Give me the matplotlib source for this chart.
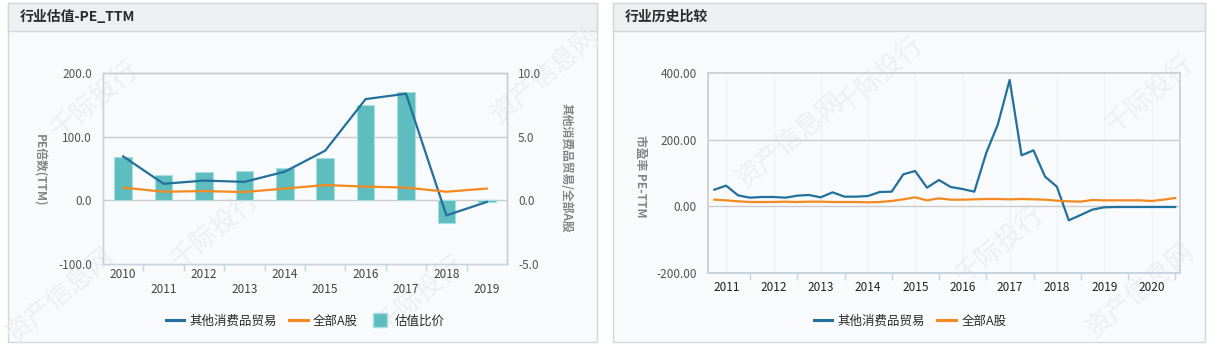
import matplotlib
matplotlib.use("Agg")
import matplotlib.pyplot as plt
import matplotlib.dates as mdates
from matplotlib.patches import Rectangle
from matplotlib.lines import Line2D
from matplotlib.ticker import FixedLocator, FormatStrFormatter
import numpy as np
import pandas as pd
import datetime as dt

plt.rcParams["font.family"] = ["Noto Sans CJK SC", "DejaVu Sans"]

# ---------------- data ----------------
# Annual valuation (left panel)
years = ["2010", "2011", "2012", "2013", "2014", "2015", "2016", "2017", "2018", "2019"]
industry_pe = [69, 26, 31, 29, 45, 78, 159, 167.5, -23.7, -2.5]
market_pe = [20, 13.5, 14.5, 13, 18.5, 24, 21.6, 20, 13.5, 18.5]
relative_pe = [3.4, 2.0, 2.2, 2.3, 2.55, 3.3, 7.45, 8.5, -1.8, -0.1]

# Quarterly history (right panel)
quarter_start = "2011-03-31"
industry_pe_q = [50, 62, 33, 26, 28, 28, 26, 32, 34, 27,
                 42, 29, 29, 31, 43, 44, 96, 106, 56, 79,
                 58, 52, 44, 160, 246, 379, 153, 168, 89, 59,
                 -42, -26, -10, -3, -2, -2, -2, -2, -2, -2]
market_pe_q = [20, 18, 15, 13, 13, 13, 14, 13, 14, 14,
               13, 13, 13, 12, 13, 16, 21, 27, 18, 24,
               20, 20, 21, 22, 22, 21, 22, 21, 20, 17,
               15, 14, 19, 18, 18, 18, 18, 16, 20, 25]
history_years = list(range(2011, 2021))

# ---------------- style ----------------
BLUE = "#22709c"
ORANGE = "#f5891f"
TEAL = "#5dbdbf"
GRID = "#cccccc"
AXBLUE = "#c6d4e2"
TICKTXT = "#555555"
LABELTXT = "#858585"
TXT = "#2b2b2b"
PANEL_BG = "#f8fafc"

W, H = 1216, 347
fig = plt.figure(figsize=(W / 100, H / 100), dpi=100)
fig.patch.set_facecolor("#ffffff")


def fx(x):
    return x / W


def fy(y):
    return 1 - y / H


def add_axes_px(x0, y0, x1, y1):
    return fig.add_axes([fx(x0), fy(y1), (x1 - x0) / W, (y1 - y0) / H])


def panel(x0, x1, title):
    y0, y1 = 3, 342
    fig.patches.append(Rectangle((fx(x0), fy(y1)), (x1 - x0) / W, (y1 - y0) / H,
                                 transform=fig.transFigure, facecolor=PANEL_BG,
                                 edgecolor="#d3d7dc", linewidth=1.0, zorder=-3))
    fig.patches.append(Rectangle((fx(x0), fy(31)), (x1 - x0) / W, (31 - y0) / H,
                                 transform=fig.transFigure, facecolor="#eeeff0",
                                 edgecolor="#d3d7dc", linewidth=1.0, zorder=-2))
    fig.text(fx(x0 + 12), fy(17), title, fontsize=10, fontweight="bold",
             color=TXT, ha="left", va="center")


panel(8, 597, "行业估值-PE_TTM")
panel(613, 1205, "行业历史比较")

# faint watermark
wm = dict(fontsize=19, color="#eceef2", rotation=40, ha="center", va="center", zorder=-1)
for (x, y, s) in [(95, 100, "千际投行"), (215, 230, "千际投行"), (60, 295, "资产信息网"),
                  (545, 75, "资产信息网"), (790, 140, "资产信息网"), (880, 75, "千际投行"),
                  (1000, 245, "千际投行"), (1150, 95, "千际投行"), (1140, 290, "资产信息网"),
                  (420, 295, "千际投行")]:
    fig.text(fx(x), fy(y), s, **wm)

# ---------------- left panel ----------------
ax1 = add_axes_px(103, 73, 507, 264)
ax2 = ax1.twinx()
ax1.set_zorder(ax2.get_zorder() + 1)
ax1.patch.set_visible(False)
ax2.patch.set_visible(False)

pos = np.arange(len(years))
ax2.bar(pos, relative_pe, width=0.44, color=TEAL, edgecolor="#a9dfdf", linewidth=0.8, zorder=2)
ax1.plot(pos, industry_pe, color=BLUE, lw=1.6, zorder=3)
ax1.plot(pos, market_pe, color=ORANGE, lw=1.6, zorder=3)

ax1.set_xlim(-0.5, len(years) - 0.5)
ax1.set_ylim(-100, 200)
ax2.set_ylim(-5, 10)
ax1.yaxis.set_major_locator(FixedLocator([-100, 0, 100, 200]))
ax2.yaxis.set_major_locator(FixedLocator([-5, 0, 5, 10]))
ax1.yaxis.set_major_formatter(FormatStrFormatter("%.1f"))
ax2.yaxis.set_major_formatter(FormatStrFormatter("%.1f"))
for v in (0, 100):
    ax2.axhline(v / 20, color=GRID, lw=1.0, zorder=1)

ax1.set_xticks(pos)
ax1.set_xticklabels([y if i % 2 == 0 else "\n" + y for i, y in enumerate(years)])
ax1.set_xticks(pos[:-1] + 0.5, minor=True)
ax1.tick_params(axis="x", which="major", length=0, pad=3, labelsize=8.5, labelcolor="#444444")
ax1.tick_params(axis="x", which="minor", length=5, color=AXBLUE, width=1)
ax1.tick_params(axis="y", length=0, pad=8, labelsize=8.5, labelcolor=TICKTXT)
ax2.tick_params(axis="y", length=0, pad=8, labelsize=8.5, labelcolor=TICKTXT)

for a in (ax1, ax2):
    a.spines["left"].set_color(AXBLUE)
    a.spines["bottom"].set_color(AXBLUE)
    a.spines["top"].set_color(GRID)
    a.spines["right"].set_color(GRID)
    for s in a.spines.values():
        s.set_linewidth(1.0)

fig.text(fx(40), fy(170), "PE倍数(TTM)", rotation=270, fontsize=8.5, fontweight="bold",
         color=LABELTXT, ha="center", va="center")
fig.text(fx(566), fy(168), "其他消费品贸易/全部A股", rotation=270, fontsize=8.5,
         fontweight="bold", color=LABELTXT, ha="center", va="center")

handles_l = [Line2D([], [], color=BLUE, lw=2.2),
             Line2D([], [], color=ORANGE, lw=2.2),
             Line2D([], [], color=TEAL, marker="s", markersize=10, linestyle="none",
                    markeredgecolor="#a9dfdf")]
leg = fig.legend(handles_l, ["其他消费品贸易", "全部A股", "估值比价"], loc="center",
                 bbox_to_anchor=(fx(305), fy(321)), ncol=3, frameon=False, fontsize=9,
                 handlelength=1.5, handletextpad=0.4, columnspacing=1.0)
for t in leg.get_texts():
    t.set_color(TXT)

# ---------------- right panel ----------------
ax3 = add_axes_px(708, 73, 1180, 273)
ax3.patch.set_visible(False)
qdates = pd.date_range(quarter_start, periods=len(industry_pe_q), freq="QE")
qx = mdates.date2num(qdates.to_pydatetime())
ax3.plot(qx, industry_pe_q, color=BLUE, lw=1.6, zorder=3)
ax3.plot(qx, market_pe_q, color=ORANGE, lw=1.6, zorder=3)

ax3.set_ylim(-200, 400)
ax3.set_xlim(mdates.date2num(dt.datetime(2011, 2, 10)), mdates.date2num(dt.datetime(2021, 2, 6)))
ax3.yaxis.set_major_locator(FixedLocator([-200, 0, 200, 400]))
ax3.yaxis.set_major_formatter(FormatStrFormatter("%.2f"))
for v in (0, 200):
    ax3.axhline(v, color=GRID, lw=1.0, zorder=1)

mid = [mdates.date2num(dt.datetime(y, 7, 2)) for y in history_years]
starts = [mdates.date2num(dt.datetime(y, 1, 1)) for y in history_years[1:] + [history_years[-1] + 1]]
for m in mid:
    ax3.axvline(m, color="#eef1f5", lw=1.0, zorder=0.8)
ax3.xaxis.set_major_locator(FixedLocator(mid))
ax3.set_xticklabels([str(y) for y in history_years])
ax3.xaxis.set_minor_locator(FixedLocator(starts))
ax3.tick_params(axis="x", which="major", length=0, pad=6, labelsize=8.5, labelcolor="#222222")
ax3.tick_params(axis="x", which="minor", length=5, color=AXBLUE, width=1)
ax3.tick_params(axis="y", length=0, pad=8, labelsize=8.5, labelcolor=TICKTXT)
for name, s in ax3.spines.items():
    s.set_color(AXBLUE if name == "bottom" else "#d2d2d2")
    s.set_linewidth(1.4)

fig.text(fx(640), fy(176), "市盈率 PE-TTM", rotation=270, fontsize=8.5, fontweight="bold",
         color=LABELTXT, ha="center", va="center")

handles_r = [Line2D([], [], color=BLUE, lw=2.2), Line2D([], [], color=ORANGE, lw=2.2)]
leg2 = fig.legend(handles_r, ["其他消费品贸易", "全部A股"], loc="center",
                  bbox_to_anchor=(fx(910), fy(321)), ncol=2, frameon=False, fontsize=9,
                  handlelength=1.5, handletextpad=0.4, columnspacing=1.0)
for t in leg2.get_texts():
    t.set_color(TXT)

fig.savefig("out.png", dpi=100, facecolor=fig.get_facecolor())
